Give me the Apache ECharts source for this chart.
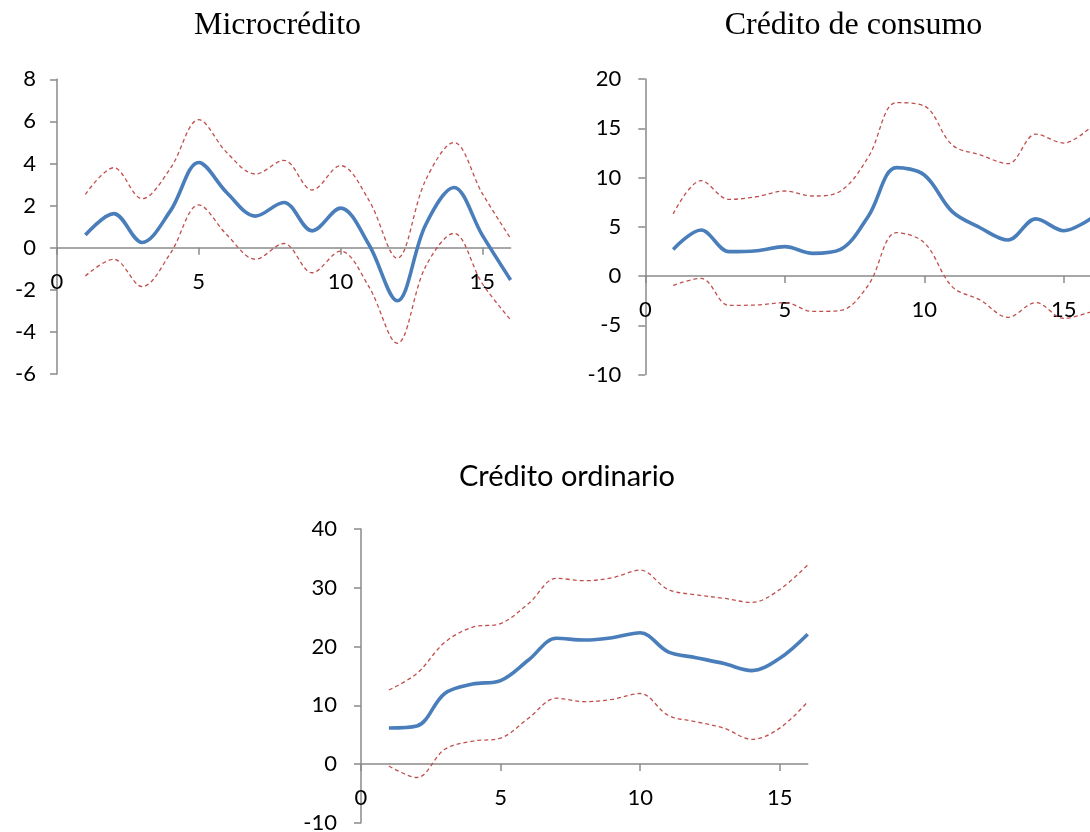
<!DOCTYPE html>
<html>
<head>
<meta charset="utf-8">
<script src="https://cdn.jsdelivr.net/npm/echarts@6/dist/echarts.min.js"></script>
<style>
  html, body { margin: 0; padding: 0; background: #fff; }
  #chart { width: 1090px; height: 832px; }
</style>
</head>
<body>
<div id="chart"></div>
<script>
// ---- Data ----
const periods = [1, 2, 3, 4, 5, 6, 7, 8, 9, 10, 11, 12, 13, 14, 15, 16];
const xTickLabels = [0, 5, 10, 15];

const titles = ['Microcrédito', 'Crédito de consumo', 'Crédito ordinario'];

// Microcrédito
const microCentral = [0.6, 1.62, 0.25, 1.75, 4.05, 2.6, 1.5, 2.15, 0.8, 1.88, 0.15, -2.52, 1.08, 2.86, 0.6, -1.53];
const microUpper   = [2.53, 3.8, 2.33, 3.77, 6.08, 4.5, 3.5, 4.15, 2.74, 3.9, 2.26, -0.5, 3.2, 5.0, 2.58, 0.44];
const microLower   = [-1.34, -0.55, -1.85, -0.27, 2.03, 0.6, -0.55, 0.2, -1.19, -0.16, -1.85, -4.54, -0.9, 0.68, -1.7, -3.43];

// Crédito de consumo
const consumoCentral = [2.7, 4.67, 2.47, 2.57, 2.98, 2.3, 2.7, 6.1, 11.0, 10.25, 6.53, 4.9, 3.65, 5.8, 4.6, 5.9];
const consumoUpper   = [6.3, 9.68, 7.78, 8.05, 8.63, 8.12, 8.63, 12.1, 17.6, 17.26, 13.3, 12.3, 11.4, 14.4, 13.5, 15.2];
const consumoLower   = [-0.95, -0.24, -2.98, -2.94, -2.7, -3.6, -3.5, -0.9, 4.4, 3.38, -1.08, -2.44, -4.2, -2.7, -4.3, -3.6];

// Crédito ordinario
const ordCentral = [6.13, 6.47, 12.0, 13.6, 14.2, 17.7, 21.4, 21.1, 21.5, 22.35, 19.1, 18.1, 17.1, 15.9, 18.0, 22.1];
const ordUpper   = [12.6, 15.4, 20.7, 23.3, 23.9, 27.3, 31.6, 31.2, 31.7, 33.0, 29.7, 28.8, 28.2, 27.5, 29.7, 33.9];
const ordLower   = [-0.34, -2.3, 2.5, 3.9, 4.4, 7.8, 11.2, 10.6, 11.0, 12.0, 8.3, 7.2, 6.1, 4.2, 6.1, 10.6];

const yScales = [
  { min: -6, max: 8, interval: 2 },
  { min: -10, max: 20, interval: 5 },
  { min: -10, max: 40, interval: 10 }
];

// ---- Styling / layout ----
const BLUE = '#4a7ebb';
const RED = '#c0504d';
const AXIS = '#8a8a8a';
const LABEL_FONT = 'Lato';
const SMOOTH = 0.35;

const grids = [
  { left: 57, top: 79.3, width: 453.6, height: 294.7 },
  { left: 645.3, top: 79, width: 446.4, height: 295.5 },
  { left: 361, top: 529, width: 446.7, height: 293.75 }
];
const yLabelMargins = [21, 24, 24];

const seriesSets = [
  [microUpper, microCentral, microLower],
  [consumoUpper, consumoCentral, consumoLower],
  [ordUpper, ordCentral, ordLower]
];

function pairs(vals) { return periods.map((p, i) => [p, vals[i]]); }

const xAxes = [], yAxes = [], series = [];
grids.forEach((g, i) => {
  const s = yScales[i];
  // move the x axis (line, ticks and labels) up to the y = 0 level
  const zeroOffset = -g.height * (0 - s.min) / (s.max - s.min);
  xAxes.push({
    type: 'value', gridIndex: i, min: 0, max: 16, interval: 5, position: 'bottom', offset: zeroOffset,
    axisLine: { show: true, onZero: false, lineStyle: { color: AXIS, width: 1.5 } },
    axisTick: { show: true, length: 7, inside: false, customValues: xTickLabels, lineStyle: { color: AXIS, width: 1.5 } },
    axisLabel: { customValues: xTickLabels, margin: 23, fontFamily: LABEL_FONT, fontSize: 22, color: '#000' },
    splitLine: { show: false }
  });
  yAxes.push({
    type: 'value', gridIndex: i, min: s.min, max: s.max, interval: s.interval,
    axisLine: { show: true, onZero: false, lineStyle: { color: AXIS, width: 1.5 } },
    axisTick: { show: true, length: 7, inside: false, lineStyle: { color: AXIS, width: 1.5 } },
    axisLabel: { margin: yLabelMargins[i], fontFamily: LABEL_FONT, fontSize: 22, color: '#000' },
    splitLine: { show: false }
  });
  const [up, mid, lo] = seriesSets[i];
  [up, lo].forEach(arr => series.push({
    type: 'line', xAxisIndex: i, yAxisIndex: i, data: pairs(arr), smooth: SMOOTH,
    symbol: 'none', silent: true,
    lineStyle: { color: RED, width: 1.3, type: [4, 3] }, z: 2
  }));
  series.push({
    type: 'line', xAxisIndex: i, yAxisIndex: i, data: pairs(mid), smooth: SMOOTH,
    symbol: 'none', silent: true,
    lineStyle: { color: BLUE, width: 3.6 }, z: 3
  });
});

const chart = echarts.init(document.getElementById('chart'), null, { renderer: 'canvas' });
chart.setOption({
  animation: false,
  backgroundColor: '#ffffff',
  grid: grids.map(g => Object.assign({ outerBoundsMode: 'none', containLabel: false }, g)),
  xAxis: xAxes,
  yAxis: yAxes,
  series: series,
  graphic: [
    { type: 'text', x: 277.5, y: 26, style: { text: titles[0], align: 'center', verticalAlign: 'middle', fontFamily: 'Liberation Serif', fontSize: 32, fill: '#000' } },
    { type: 'text', x: 853.5, y: 26, style: { text: titles[1], align: 'center', verticalAlign: 'middle', fontFamily: 'Liberation Serif', fontSize: 32, fill: '#000' } },
    { type: 'text', x: 567, y: 477, style: { text: titles[2], align: 'center', verticalAlign: 'middle', fontFamily: LABEL_FONT, fontSize: 29, fill: '#000' } }
  ]
});
</script>
</body>
</html>
